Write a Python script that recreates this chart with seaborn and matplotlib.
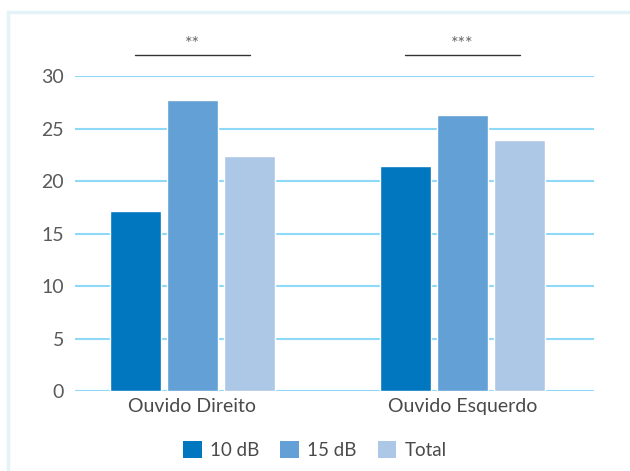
import pandas as pd
import seaborn as sns
import matplotlib.pyplot as plt
from matplotlib.lines import Line2D
from matplotlib.patches import Patch

# dados
ouvidos = ['Ouvido Direito', 'Ouvido Esquerdo']
series = ['10 dB', '15 dB', 'Total']
v_10db = [17.1, 21.4]
v_15db = [27.7, 26.3]
v_total = [22.4, 23.9]
signif = ['**', '***']
cores = ['#0077BE', '#63A0D6', '#ADC8E6']


def main():
    df = pd.DataFrame({
        'ouvido': ouvidos * 3,
        'serie': [s for s in series for _ in ouvidos],
        'valor': v_10db + v_15db + v_total,
    })

    sns.set_style('white')
    plt.rcParams['font.family'] = ['Lato', 'DejaVu Sans']

    fig = plt.figure(figsize=(6.3, 4.71), dpi=100)
    ax = fig.add_axes([75 / 630, 80 / 471, 519 / 630, 315 / 471])

    # moldura azul clara (só esquerda e topo)
    fx, fy = 8 / 630, (471 - 12) / 471
    fig.add_artist(Line2D([fx, fx], [0, fy], transform=fig.transFigure,
                          color='#E3F3F8', linewidth=2.5))
    fig.add_artist(Line2D([fx, 1], [fy, fy], transform=fig.transFigure,
                          color='#E3F3F8', linewidth=2.5))

    sns.barplot(data=df, x='ouvido', y='valor', hue='serie', palette=cores,
                width=0.633, gap=0.105, saturation=1, ax=ax, legend=False,
                zorder=3)

    ax.set_ylim(0, 30)
    ax.set_xlim(-0.435, 1.487)
    ax.set_yticks(range(0, 31, 5))
    ax.yaxis.grid(True, color='#8DD9F7', linewidth=1.5, zorder=0)
    ax.set_axisbelow(True)
    for s in ax.spines.values():
        s.set_visible(False)
    ax.set_xlabel('')
    ax.set_ylabel('')
    ax.tick_params(axis='y', length=0, pad=8, labelsize=14, labelcolor='#5a5a5a')
    ax.tick_params(axis='x', length=0, pad=5, labelsize=14, labelcolor='#4a4a4a')

    # barras de significância
    for i, txt in enumerate(signif):
        ax.plot([i - 0.213, i + 0.213], [32.0, 32.0], color='#333333',
                linewidth=1, clip_on=False)
        ax.text(i, 32.3, txt, ha='center', va='bottom', fontsize=13,
                color='#666666', clip_on=False)

    handles = [Patch(facecolor=c, edgecolor='none') for c in cores]
    fig.legend(handles, series, loc='lower center', ncol=3, frameon=False,
               bbox_to_anchor=(0.5, -0.01), handlelength=1.0,
               handleheight=1.0, handletextpad=0.45, columnspacing=1.1,
               labelcolor='#4a4a4a', prop={'size': 13.5})

    fig.savefig('out.png', dpi=100)


if __name__ == '__main__':
    main()
